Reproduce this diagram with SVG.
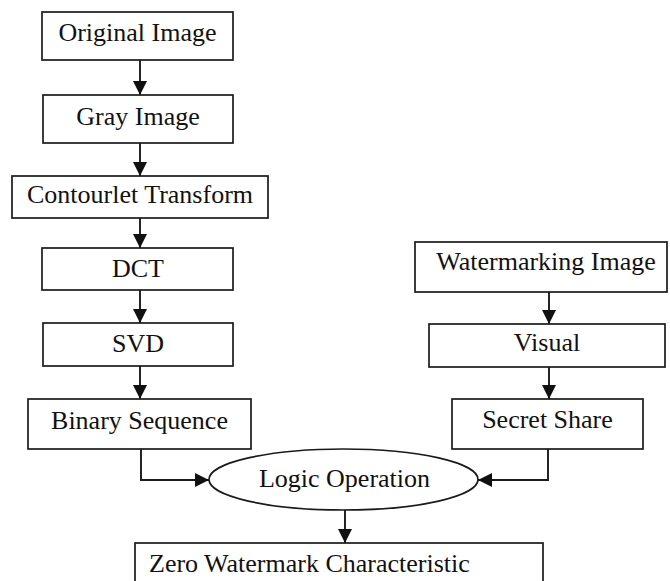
<svg xmlns="http://www.w3.org/2000/svg" width="670" height="581" viewBox="0 0 670 581">
  <style>
    .box { fill: #ffffff; stroke: #1a1a1a; stroke-width: 1.7; }
    .lbl { font-family: "Liberation Serif", "Times New Roman", serif; font-size: 26px; fill: #111; }
    .mid { text-anchor: middle; }
    .wire { fill: none; stroke: #1a1a1a; stroke-width: 1.9; }
  </style>
  <defs>
    <marker id="head" markerUnits="userSpaceOnUse" markerWidth="15" markerHeight="15" refX="14" refY="7" orient="auto">
      <path d="M0,0 L14,7 L0,14 z" fill="#111"/>
    </marker>
  </defs>
  <rect width="670" height="581" fill="#ffffff"/>

  <g id="connectors">
    <path class="wire" d="M140,60 V95" marker-end="url(#head)"/>
    <path class="wire" d="M140,143 V176" marker-end="url(#head)"/>
    <path class="wire" d="M140,218 V248" marker-end="url(#head)"/>
    <path class="wire" d="M140,290 V323" marker-end="url(#head)"/>
    <path class="wire" d="M140,366 V399" marker-end="url(#head)"/>
    <path class="wire" d="M141,449 V480 H209" marker-end="url(#head)"/>
    <path class="wire" d="M549,292 V324" marker-end="url(#head)"/>
    <path class="wire" d="M549,367 V399" marker-end="url(#head)"/>
    <path class="wire" d="M548,449 V480 H478" marker-end="url(#head)"/>
    <path class="wire" d="M345,510 V543" marker-end="url(#head)"/>
  </g>

  <g id="original-image">
    <rect class="box" x="42" y="12" width="191" height="48"/>
    <text class="lbl mid" x="137.5" y="41">Original Image</text>
  </g>
  <g id="gray-image">
    <rect class="box" x="43" y="95" width="190" height="48"/>
    <text class="lbl mid" x="138" y="125">Gray Image</text>
  </g>
  <g id="contourlet-transform">
    <rect class="box" x="12" y="176" width="256" height="42"/>
    <text class="lbl mid" x="140" y="203">Contourlet Transform</text>
  </g>
  <g id="dct">
    <rect class="box" x="42" y="248" width="191" height="42"/>
    <text class="lbl mid" x="138" y="277">DCT</text>
  </g>
  <g id="svd">
    <rect class="box" x="43" y="323" width="190" height="43"/>
    <text class="lbl mid" x="138" y="352">SVD</text>
  </g>
  <g id="binary-sequence">
    <rect class="box" x="28" y="399" width="223" height="50"/>
    <text class="lbl mid" x="139.5" y="429">Binary Sequence</text>
  </g>
  <g id="watermarking-image">
    <rect class="box" x="415" y="242" width="252" height="50"/>
    <text class="lbl mid" x="546" y="270">Watermarking Image</text>
  </g>
  <g id="visual">
    <rect class="box" x="429" y="324" width="236" height="43"/>
    <text class="lbl mid" x="547" y="351">Visual</text>
  </g>
  <g id="secret-share">
    <rect class="box" x="452" y="399" width="191" height="50"/>
    <text class="lbl mid" x="547.5" y="428">Secret Share</text>
  </g>
  <g id="logic-operation">
    <ellipse class="box" cx="343.5" cy="479.5" rx="134.5" ry="30.5"/>
    <text class="lbl mid" x="344.5" y="487">Logic Operation</text>
  </g>
  <g id="zero-watermark-characteristic">
    <rect class="box" x="135" y="543" width="408" height="60"/>
    <text class="lbl" x="149" y="572">Zero Watermark Characteristic</text>
  </g>
</svg>
